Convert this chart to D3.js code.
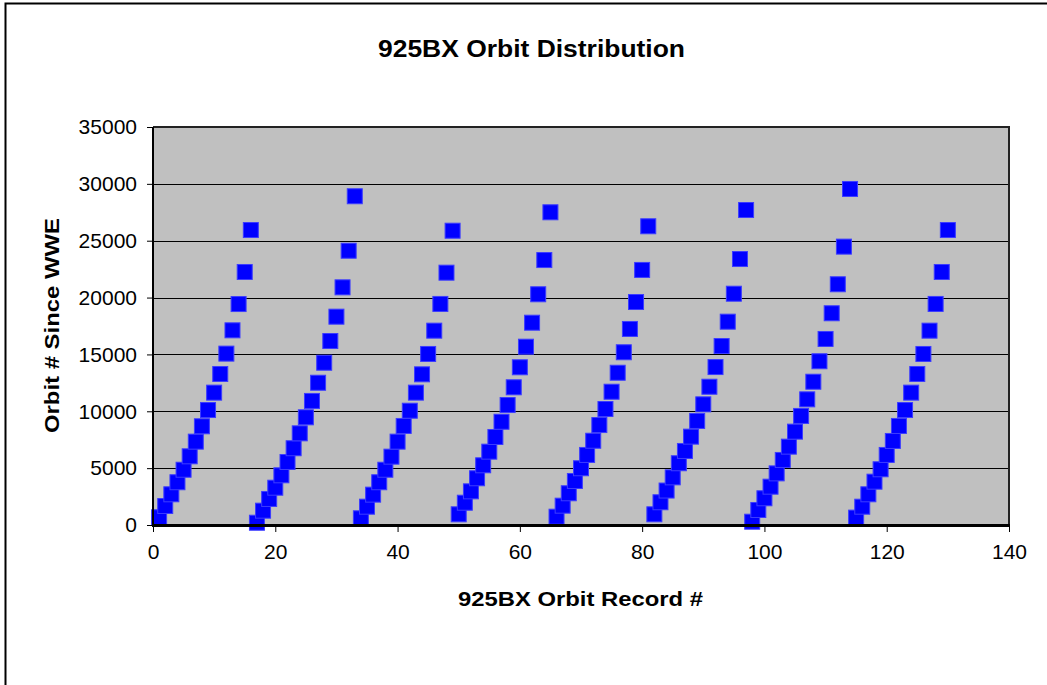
<!DOCTYPE html>
<html>
<head>
<meta charset="utf-8">
<script src="https://cdn.jsdelivr.net/npm/d3@7/dist/d3.min.js"></script>
<style>
  html, body { margin: 0; padding: 0; background: #fff; }
  text { font-family: Arial, "Liberation Sans", sans-serif; fill: #000; }
</style>
</head>
<body>
<div id="chart"></div>
<script>
// Orbit # since WWE for each record, in record order (record # = position + 1)
const orbitValues = [
  // records 1-16
  680, 1670, 2700, 3760, 4860, 6040, 7330, 8680, 10110, 11640, 13280, 15070, 17120, 19430, 22250, 25940,
  // records 17-33
  200, 1260, 2290, 3280, 4370, 5540, 6750, 8060, 9470, 10910, 12510, 14270, 16180, 18320, 20900, 24120, 28910,
  // records 34-49
  590, 1610, 2670, 3760, 4860, 6010, 7330, 8710, 10050, 11640, 13250, 15040, 17090, 19440, 22190, 25880,
  // records 50-65
  940, 1960, 2960, 4110, 5250, 6450, 7740, 9080, 10550, 12110, 13870, 15680, 17790, 20290, 23300, 27500,
  // records 66-81
  730, 1700, 2790, 3870, 4990, 6160, 7410, 8790, 10200, 11720, 13390, 15190, 17240, 19610, 22430, 26270,
  // records 82-97
  940, 2000, 3030, 4190, 5430, 6510, 7770, 9150, 10610, 12160, 13890, 15740, 17880, 20340, 23390, 27700,
  // records 98-114
  290, 1320, 2350, 3370, 4540, 5720, 6890, 8210, 9590, 11050, 12600, 14400, 16360, 18620, 21170, 24480, 29550,
  // records 115-130
  650, 1610, 2700, 3810, 4900, 6160, 7390, 8710, 10110, 11640, 13280, 15040, 17090, 19440, 22250, 25940
];

const xTicks = [0, 20, 40, 60, 80, 100, 120, 140];
const yTicks = [0, 5000, 10000, 15000, 20000, 25000, 30000, 35000];

const titleText = '925BX Orbit Distribution';
const xTitle = '925BX Orbit Record #';
const yTitle = 'Orbit # Since WWE';

const width = 1047, height = 685;
const plot = { left: 153, right: 1009, top: 127, bottom: 525 };

const svg = d3.select('#chart').append('svg')
  .attr('width', width)
  .attr('height', height);

// outer chart border (runs off the right and bottom edges)
svg.append('rect')
  .attr('x', 5.5).attr('y', 3.5)
  .attr('width', 1200).attr('height', 900)
  .attr('fill', '#fff')
  .attr('stroke', '#000')
  .attr('stroke-width', 2);

const x = d3.scaleLinear().domain([0, 140]).range([plot.left, plot.right]);
const y = d3.scaleLinear().domain([0, 35000]).range([plot.bottom, plot.top]);

// plot area
svg.append('rect')
  .attr('x', plot.left).attr('y', plot.top)
  .attr('width', plot.right - plot.left)
  .attr('height', plot.bottom - plot.top)
  .attr('fill', '#c0c0c0');

// gridlines
svg.append('g')
  .selectAll('line')
  .data(yTicks.filter(d => d > 0 && d < 35000))
  .join('line')
  .attr('x1', plot.left).attr('x2', plot.right)
  .attr('y1', d => Math.round(y(d)) + 0.5)
  .attr('y2', d => Math.round(y(d)) + 0.5)
  .attr('stroke', '#000')
  .attr('stroke-width', 1);

// top and right border of plot area
svg.append('path')
  .attr('d', `M${plot.left},${plot.top} H${plot.right} V${plot.bottom}`)
  .attr('fill', 'none')
  .attr('stroke', '#222')
  .attr('stroke-width', 2);

// markers
const size = 15;
svg.append('g')
  .selectAll('rect')
  .data(orbitValues)
  .join('rect')
  .attr('x', (d, i) => x(i + 1) - size / 2)
  .attr('y', d => y(d) - size / 2)
  .attr('width', size)
  .attr('height', size)
  .attr('fill', '#0000ff')
  .attr('stroke', '#3c3cff')
  .attr('stroke-width', 1);

// axes
const xAxis = svg.append('g')
  .attr('transform', `translate(0,${plot.bottom})`)
  .call(d3.axisBottom(x).tickValues(xTicks).tickSize(7).tickPadding(12));

const yAxis = svg.append('g')
  .attr('transform', `translate(${plot.left},0)`)
  .call(d3.axisLeft(y).tickValues(yTicks).tickSize(6).tickPadding(10).tickFormat(d3.format('d')));

[xAxis, yAxis].forEach(a => {
  a.select('.domain').remove();
  a.selectAll('.tick line').attr('stroke', '#000');
  a.selectAll('.tick text')
    .attr('font-size', '21px')
    .attr('font-family', 'Arial, "Liberation Sans", sans-serif')
    .attr('fill', '#000');
});

// axis lines drawn on top
svg.append('line')
  .attr('x1', plot.left).attr('x2', plot.left)
  .attr('y1', plot.top).attr('y2', plot.bottom + 1)
  .attr('stroke', '#000').attr('stroke-width', 2);
svg.append('line')
  .attr('x1', plot.left - 1).attr('x2', plot.right + 1)
  .attr('y1', plot.bottom + 0.5).attr('y2', plot.bottom + 0.5)
  .attr('stroke', '#000').attr('stroke-width', 3);

// titles
svg.append('text')
  .attr('x', 531.5).attr('y', 57)
  .attr('text-anchor', 'middle')
  .attr('font-size', '23px')
  .attr('font-weight', 'bold')
  .attr('textLength', 307)
  .attr('lengthAdjust', 'spacingAndGlyphs')
  .text(titleText);

svg.append('text')
  .attr('x', 580.5).attr('y', 606)
  .attr('text-anchor', 'middle')
  .attr('font-size', '21px')
  .attr('font-weight', 'bold')
  .attr('textLength', 245)
  .attr('lengthAdjust', 'spacingAndGlyphs')
  .text(xTitle);

svg.append('text')
  .attr('transform', 'translate(59,325.5) rotate(-90)')
  .attr('text-anchor', 'middle')
  .attr('font-size', '21px')
  .attr('font-weight', 'bold')
  .attr('textLength', 215)
  .attr('lengthAdjust', 'spacingAndGlyphs')
  .text(yTitle);
</script>
</body>
</html>
